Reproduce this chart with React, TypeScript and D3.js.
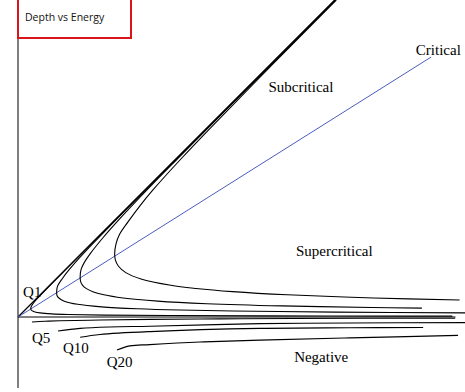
import * as d3 from 'd3'

// curve points, as [energy, depth]
const q1Pos: [number, number][] = [[10, 10], [4, 4], [2, 2], [1.01, 1], [0.627, 0.6], [0.497, 0.45], [0.428, 0.35], [0.407, 0.3], [0.402, 0.268], [0.411, 0.23], [0.44, 0.2], [0.535, 0.16], [0.698, 0.13], [1.06, 0.1], [1.58, 0.08], [2.73, 0.06], [4.79, 0.045], [7.87, 0.035], [12.27, 0.028], [13.7, 0.0265]]
const q5Pos: [number, number][] = [[10.0, 10], [6.01, 6], [4.015, 4], [3.026, 3], [2.06, 2], [1.62, 1.5], [1.39, 1.2], [1.26, 1.0], [1.23, 0.9], [1.22, 0.78], [1.23, 0.68], [1.29, 0.6], [1.46, 0.5], [1.881, 0.4], [2.634, 0.32], [3.766, 0.26], [5.117, 0.22], [7.495, 0.18], [10.02, 0.155], [14.1, 0.13]]
const q10Pos: [number, number][] = [[10.01, 10], [7.02, 7], [5.039, 5], [4.061, 4], [3.12, 3], [2.68, 2.5], [2.28, 2], [2.08, 1.7], [1.99, 1.5], [1.96, 1.25], [1.98, 1.1], [2.08, 0.95], [2.36, 0.8], [2.71, 0.7], [3.314, 0.6], [4.408, 0.5], [5.959, 0.42], [8.326, 0.35], [11.16, 0.3], [12.74, 0.28]]
const q20Pos: [number, number][] = [[10.04, 10], [8.06, 8], [6.106, 6], [5.153, 5], [4.25, 4], [3.84, 3.5], [3.47, 3], [3.2, 2.6], [3.09, 2.3], [3.05, 2.0], [3.07, 1.8], [3.17, 1.6], [3.4, 1.4], [3.88, 1.2], [4.82, 1.0], [5.616, 0.9], [6.769, 0.8], [8.496, 0.7], [11.21, 0.6], [13.93, 0.534]]

const q1Neg: [number, number][] = [[0.44, -0.158], [0.85, -0.136], [1.32, -0.12], [2.59, -0.095], [4.16, -0.076], [6.37, -0.06], [8.68, -0.047], [13.79, -0.038]]
const q5Neg: [number, number][] = [[1.26, -0.44], [1.96, -0.36], [2.9, -0.315], [4.16, -0.29], [7.63, -0.21], [10.47, -0.19], [14.1, -0.177]]
const q10Neg: [number, number][] = [[1.96, -0.64], [2.59, -0.55], [4.16, -0.46], [7.63, -0.36], [10.47, -0.34], [12.78, -0.33]]
const q20Neg: [number, number][] = [[3.12, -1.04], [3.53, -0.91], [4.16, -0.87], [5.74, -0.79], [7.63, -0.73], [10.47, -0.66], [13.88, -0.58]]

const energyLine: [number, number][] = [[0, 0], [10, 10]]
const criticalLine: [number, number][] = [[0, 0], [13.03, 8.2]]

const regionLabels = ['Subcritical', 'Critical', 'Supercritical', 'Negative']
const regionPos: [number, number][] = [[7.9, 7.1], [12.55, 8.27], [8.77, 1.93], [8.71, -1.42]]
const flowLabels = ['Q1', 'Q5', 'Q10', 'Q20']
const flowPos: [number, number][] = [[0.16, 0.63], [0.44, -0.82], [1.42, -1.14], [2.8, -1.58]]

const width = 465
const height = 392

export default function App() {
  const x = d3.scaleLinear().domain([0, 14.1]).range([18, 465])
  const y = d3.scaleLinear().domain([0, 10]).range([317, 0])

  const line = d3.line<[number, number]>()
    .x(d => x(d[0]))
    .y(d => y(d[1]))
    .curve(d3.curveCatmullRom.alpha(0.5))

  const straight = d3.line<[number, number]>()
    .x(d => x(d[0]))
    .y(d => y(d[1]))

  const curves = [q1Pos, q5Pos, q10Pos, q20Pos, q1Neg, q5Neg, q10Neg, q20Neg]

  return (
    <svg width={width} height={height}
      style={{ position: 'absolute', left: 0, top: 0, background: '#fff' }}>
      {/* axes */}
      <line x1={x(0)} x2={x(0)} y1={y(-2.24)} y2={y(10)} stroke="#000" strokeWidth={1} />
      <line x1={x(0)} x2={x(13.8)} y1={y(0)} y2={y(0)} stroke="#000" strokeWidth={1} />

      <path d={straight(energyLine) ?? ''} fill="none" stroke="#000" strokeWidth={1.3} />
      <path d={straight(criticalLine) ?? ''} fill="none" stroke="#4a5cc0" strokeWidth={1} />

      {curves.map((c, i) => (
        <path key={i} d={line(c) ?? ''} fill="none" stroke="#000" strokeWidth={1.1} />
      ))}

      {regionLabels.map((t, i) => (
        <text key={t} x={x(regionPos[i][0])} y={y(regionPos[i][1])}
          fontFamily="'Liberation Serif', 'Times New Roman', serif" fontSize={15} fill="#000">{t}</text>
      ))}
      {flowLabels.map((t, i) => (
        <text key={t} x={x(flowPos[i][0])} y={y(flowPos[i][1])}
          fontFamily="'Liberation Serif', 'Times New Roman', serif" fontSize={15} fill="#000">{t}</text>
      ))}

      {/* title box */}
      <rect x={18} y={-2} width={113} height={40} fill="#fff" stroke="#d9141b" strokeWidth={2} />
      <text x={25} y={21} fontFamily="'Open Sans', 'Liberation Sans', sans-serif" fontSize={10.5} fill="#111">Depth vs Energy</text>
    </svg>
  )
}
